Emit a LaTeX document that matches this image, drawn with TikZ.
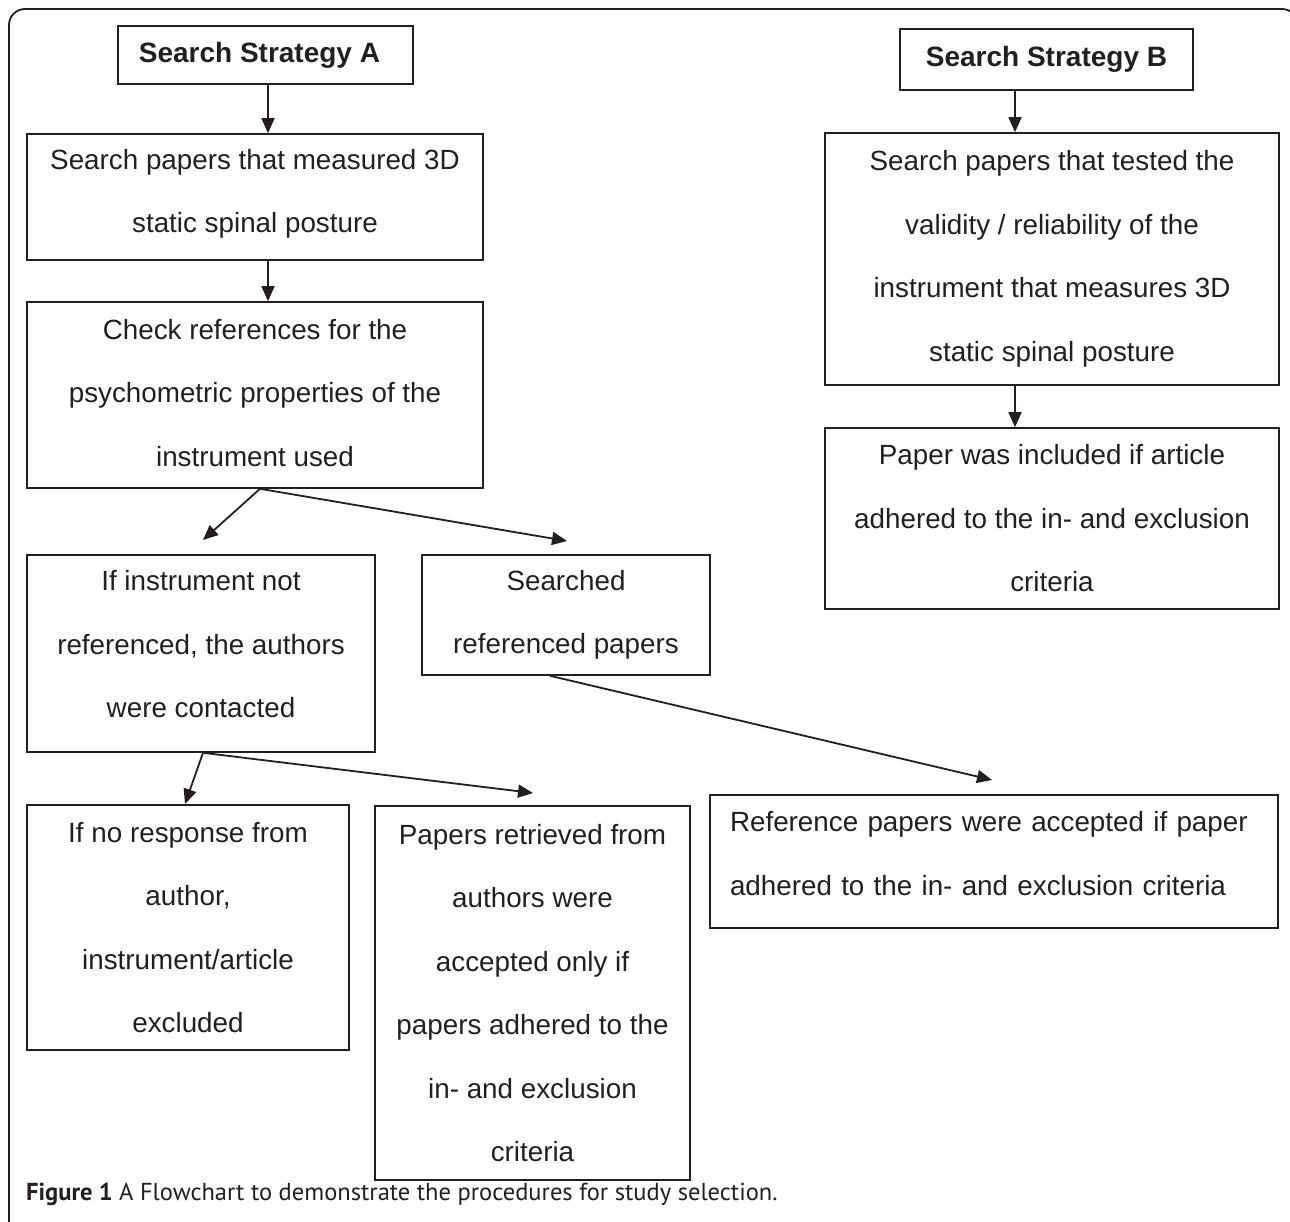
\documentclass[tikz,border=0pt]{standalone}
\usepackage{fontspec}
\setmainfont{Liberation Sans}
\newfontfamily\capfont{PT Sans}
\usetikzlibrary{arrows.meta}
\definecolor{ink}{HTML}{231F20}
\begin{document}
\begin{tikzpicture}[x=1pt,y=-1pt,
  box/.style={draw=ink, line width=1.6pt, inner sep=0pt, align=center, text=ink,
    font=\fontsize{27.8}{63.5}\selectfont},
  head/.style={box, font=\fontsize{28}{34}\selectfont\bfseries},
  arr/.style={draw=ink, line width=1.8pt, -{Triangle[length=15pt,width=13pt]}},
 ]
\useasboundingbox (0,0) rectangle (1290,1222);
\clip (0,0) rectangle (1290,1222);
\draw[ink, line width=1.8pt, rounded corners=16pt] (9,9) rectangle (1298,1270);

% Strategy A
\node[head, minimum width=295, minimum height=58] (sa) at (265.5,55) {Search Strategy A\hspace*{12pt}};
\node[box, minimum width=456, minimum height=126, text depth=12pt] (a1) at (255,197)
  {Search papers that measured 3D\\static spinal posture};
\node[box, minimum width=456, minimum height=186, text depth=5pt] (a2) at (255,395)
  {Check references for the\\psychometric properties of the\\instrument used};
\node[box, minimum width=348, minimum height=197, text depth=19pt] (a3) at (201,653.5)
  {If instrument not\\referenced, the authors\\were contacted};
\node[box, minimum width=288, minimum height=120] (a4) at (566,615)
  {Searched\\referenced papers};
\node[box, minimum width=322, minimum height=245] (a5) at (188,927.5)
  {If no response from\\author,\\instrument/article\\excluded};
\node[box, minimum width=315, minimum height=374] (a6) at (532.5,993)
  {Papers retrieved from\\authors were\\accepted only if\\papers adhered to the\\in- and exclusion\\criteria};
\node[box, align=left, text width=528, inner xsep=20pt, minimum height=133, text depth=79.5pt] (a7) at (994,861.5)
  {Reference papers were accepted if paper\\adhered to the in- and exclusion criteria};

% Strategy B
\node[head, minimum width=293, minimum height=61] (sb) at (1046.5,59.5) {Search Strategy B};
\node[box, minimum width=454, minimum height=252] (b1) at (1052,259)
  {Search papers that tested the\\validity / reliability of the\\instrument that measures 3D\\static spinal posture};
\node[box, minimum width=454, minimum height=181] (b2) at (1052,518.5)
  {Paper was included if article\\adhered to the in- and exclusion\\criteria};

% free arrow ends
\coordinate (t1) at (203,540);
\coordinate (t2) at (567,541);
\coordinate (t3) at (992,780);
\coordinate (t4) at (185,804);
\coordinate (t5) at (533,793);

\draw[arr] (sa.south -| 268,0) -- (a1.north -| 268,0);
\draw[arr] (a1.south -| 268,0) -- (a2.north -| 268,0);
\draw[arr] (a2.south -| 260,0) -- (t1);
\draw[arr] (a2.south -| 260,0) -- (t2);
\draw[arr] (a4.south -| 550,0) -- (t3);
\draw[arr] (a3.south -| 203,0) -- (t4);
\draw[arr] (a3.south -| 203,0) -- (t5);
\draw[arr] (sb.south -| 1015,0) -- (b1.north -| 1015,0);
\draw[arr] (b1.south -| 1015,0) -- (b2.north -| 1015,0);

% caption
\node[anchor=base west, inner sep=0pt, text=ink] (cap) at (26,1200)
  {\capfont\fontsize{24.5}{28}\selectfont\textbf{Figure 1} A Flowchart to demonstrate the procedures for study selection.};
\end{tikzpicture}
\end{document}
